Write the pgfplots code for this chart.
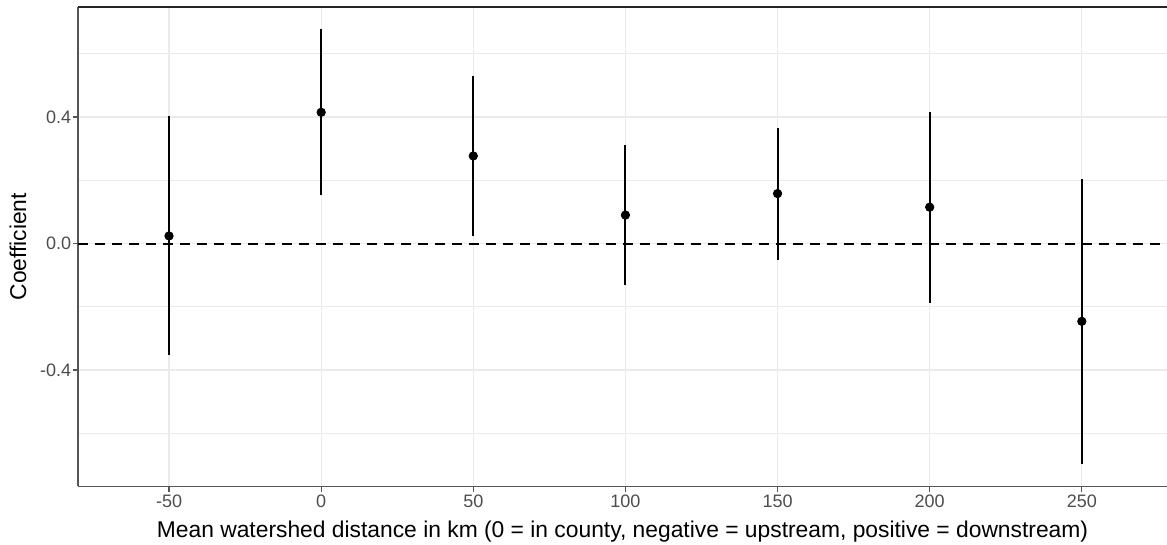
\documentclass[border=0pt]{standalone}
\usepackage{pgfplots}
\pgfplotsset{compat=1.18}
\usepackage{fontspec}
\setmainfont{Liberation Sans}
\definecolor{gridc}{HTML}{EBEBEB}
\definecolor{tickc}{HTML}{4D4D4D}
\definecolor{axc}{HTML}{555555}
\pgfplotstableread{
x y ep em
-50 0.024 0.379 0.376
0 0.415 0.262 0.262
50 0.277 0.253 0.253
100 0.090 0.221 0.220
150 0.158 0.206 0.210
200 0.115 0.302 0.302
250 -0.246 0.451 0.451
}\coefs
\begin{document}
\begin{tikzpicture}
\begin{axis}[
  name=ax,
  scale only axis, width=544pt, height=239.5pt,
  xmin=-79.9, xmax=278, ymin=-0.768, ymax=0.748,
  axis x line*=bottom, axis y line*=left,
  axis line style={axc, line width=0.6pt},
  xtick={-50,0,50,100,150,200,250},
  ytick={-0.4,0,0.4},
  minor ytick={-0.6,-0.2,0.2,0.6},
  yticklabels={-0.4,0.0,0.4},
  xticklabels={-50,0,50,100,150,200,250},
  grid=both,
  major grid style={gridc, line width=0.6pt},
  minor grid style={gridc, line width=0.35pt},
  minor tick length=0pt,
  tick style={axc, line width=0.6pt},
  major tick length=2.75pt,
  tick align=outside,
  tick label style={font=\fontsize{9}{10}\selectfont, text=tickc, inner sep=0pt},
  yticklabel style={xshift=-0.5pt},
  xticklabel style={yshift=-1.5pt},
  xlabel={Mean watershed distance in km (0 = in county, negative = upstream, positive = downstream)},
  ylabel={Coefficient},
  label style={font=\fontsize{11.4}{13}\selectfont},
  xlabel style={at={([yshift=-25.5pt]axis description cs:0.5,0)}, anchor=base},
  ylabel style={at={([xshift=-26pt]axis description cs:0,0.5)}, anchor=base, rotate=0},
  clip=false,
]
\addplot[black, line width=1pt, dash pattern=on 5pt off 3.5pt, forget plot] coordinates {(-79.9,0) (278,0)};
\addplot[draw=none, mark=*, mark size=2.1pt, mark options={black, fill=black},
  error bars/.cd, y dir=both, y explicit, error mark=none,
  error bar style={black, line width=1pt}]
  table[x=x, y=y, y error plus=ep, y error minus=em] {\coefs};
\draw[black!85, line width=0.6pt] (rel axis cs:0,1) -- (rel axis cs:1,1);
\end{axis}
\pgfresetboundingbox
\path[use as bounding box] ([xshift=-39pt,yshift=3.5pt]ax.north west) rectangle ([yshift=-29pt]ax.south east);
\end{tikzpicture}
\end{document}
